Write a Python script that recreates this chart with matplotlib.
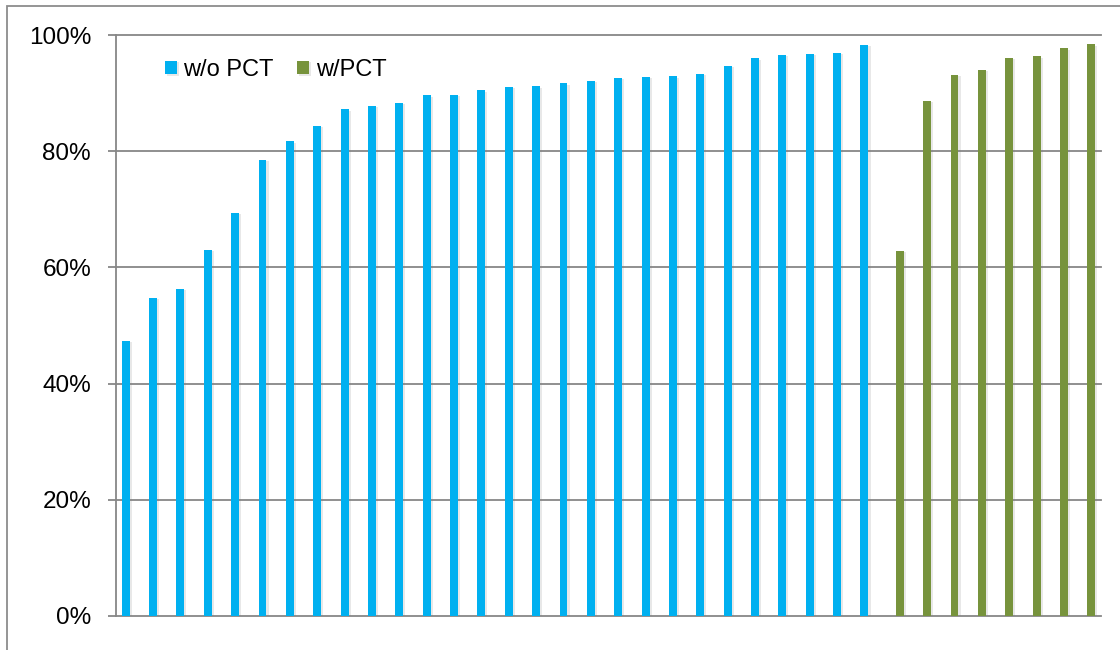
import numpy as np
import matplotlib
matplotlib.use("Agg")
import matplotlib.pyplot as plt
import matplotlib.patheffects as pe
from matplotlib.patches import Rectangle
from matplotlib.ticker import PercentFormatter

plt.rcParams['font.family'] = ['Liberation Sans', 'DejaVu Sans']

# success rate per run, sorted ascending
wo_pct = [47.4, 54.8, 56.3, 63.0, 69.4, 78.5, 81.7, 84.4, 87.2, 87.8,
          88.3, 89.6, 89.7, 90.5, 91.1, 91.2, 91.7, 92.1, 92.6, 92.8,
          92.9, 93.3, 94.7, 96.0, 96.6, 96.8, 96.9, 98.3]
w_pct = [62.9, 88.7, 93.2, 94.0, 96.1, 96.3, 97.7, 98.4]
series_names = ["w/o PCT", "w/PCT"]
blue = "#00B0F0"
green = "#77933C"
grid_gray = "#878787"

n_blue = len(wo_pct)
n_green = len(w_pct)
n_cat = n_blue + n_green
width = 0.29

fig = plt.figure(figsize=(11.2, 6.5), dpi=100)
ax = fig.add_axes([116 / 1120, 1 - 616 / 650, 985 / 1120, 581 / 650])

shadow = [pe.SimplePatchShadow(offset=(1.5, -1), alpha=0.18, shadow_rgbFace='gray'), pe.Normal()]

x_blue = np.arange(n_blue) - width / 2
x_green = np.arange(n_blue, n_cat) + width / 2
b1 = ax.bar(x_blue, np.array(wo_pct) / 100, width=width, color=blue, label=series_names[0], zorder=3)
b2 = ax.bar(x_green, np.array(w_pct) / 100, width=width, color=green, label=series_names[1], zorder=3)
for p in list(b1) + list(b2):
    p.set_path_effects(shadow)

ax.set_xlim(-0.5, n_cat - 0.5)
ax.set_ylim(0, 1.0)
ax.set_yticks(np.arange(0, 1.01, 0.2))
ax.yaxis.set_major_formatter(PercentFormatter(1.0, decimals=0))
ax.set_xticks([])

for y in np.arange(0.2, 1.01, 0.2):
    ax.axhline(y, color=grid_gray, lw=1.3, zorder=1, clip_on=False)

for s in ["top", "right"]:
    ax.spines[s].set_visible(False)
for s in ["left", "bottom"]:
    ax.spines[s].set_color(grid_gray)
    ax.spines[s].set_linewidth(1.3)
ax.tick_params(axis='y', length=6, width=1.3, color=grid_gray, pad=12, labelsize=17.5, labelcolor="black")

leg = ax.legend(loc="upper left", bbox_to_anchor=(0.040, 0.975), ncol=2, frameon=False,
                fontsize=17, handlelength=0.5, handleheight=0.5, handletextpad=0.28,
                columnspacing=1.0, borderaxespad=0)

# outer chart border
fig.patches.append(Rectangle((7 / 1120, -0.1), 1.2, 1 - 6 / 650 + 0.1, transform=fig.transFigure,
                             fill=False, edgecolor="#8c8c8c", lw=1.3))

fig.savefig("out.png", dpi=100)
